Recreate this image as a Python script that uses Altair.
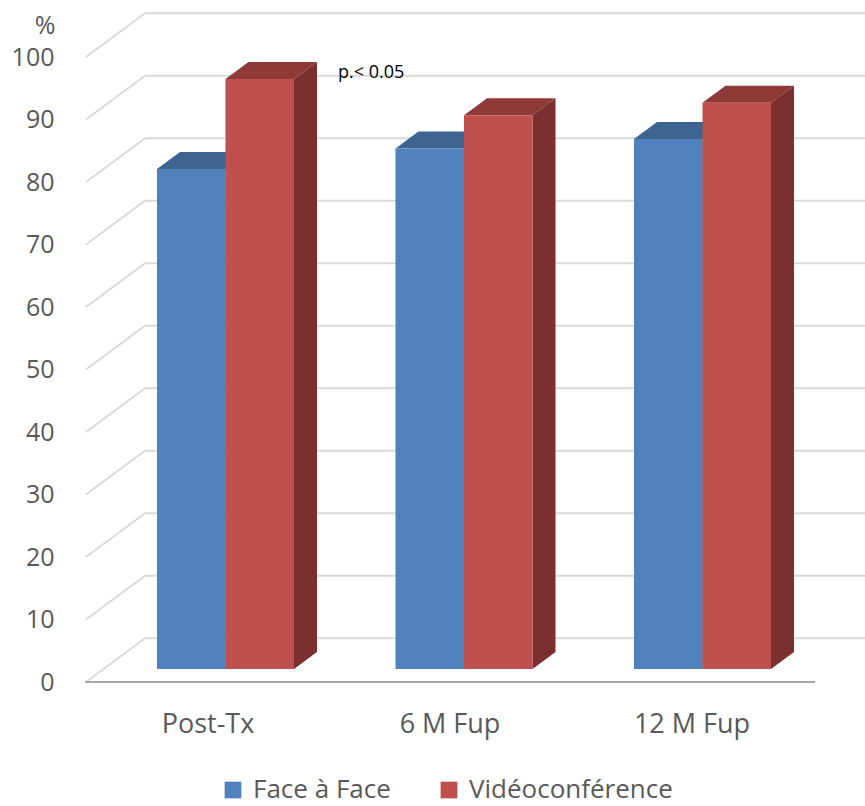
import altair as alt
import pandas as pd

# ---- data -------------------------------------------------------------
categories = ["Post-Tx", "6 M Fup", "12 M Fup"]
series = ["Face à Face", "Vidéoconférence"]
face_a_face = [80.0, 83.3, 84.8]
videoconference = [94.4, 88.6, 90.6]
y_ticks = [0, 10, 20, 30, 40, 50, 60, 70, 80, 90, 100]
annotation = "p.< 0.05"

# ---- colours ----------------------------------------------------------
front_colors = ["#4F81BD", "#C0504D"]
top_colors = ["#3D6391", "#8F3A38"]
side_colors = ["#304F74", "#7B302F"]
grid_color = "#D9D9D9"
floor_color = "#A6A6A6"
text_color = "#595959"
FONT = "Open Sans"

# ---- layout (x in canvas pixels, y in percent units) --------------------
CANVAS_W, CANVAS_H = 865, 806
PLOT_LEFT = 86
PX_PER_UNIT = 6.25
ZERO_PX = 682
Y_MIN = -(CANVAS_H - ZERO_PX) / PX_PER_UNIT
Y_MAX = ZERO_PX / PX_PER_UNIT

WALL_FRONT_X, WALL_BACK_X = 86, 145   # left wall: front and back edges
WALL_RIGHT = 865
WALL_DY = 7.0                          # vertical shift of the back wall
FLOOR_LEFT, FLOOR_RIGHT = 85, 815

GROUP_X0 = 157
GROUP_STEP = 238.5
BAR_W = 68.5
BAR_BASE = 2.08        # bars stand part-way into the floor
BAR_DX = 23            # bar depth, horizontal
BAR_DY = 2.72          # bar depth, vertical
LABEL_X0 = 208
LABEL_STEP = 242
LABEL_Y = -8.16
ANNOT_X, ANNOT_Y = 338, 96.6

xscale = alt.Scale(domain=[PLOT_LEFT, CANVAS_W], nice=False, zero=False)
yscale = alt.Scale(domain=[Y_MIN, Y_MAX], nice=False, zero=False)
yaxis = alt.Axis(
    values=y_ticks, title="%", titleAngle=0, titleAlign="right",
    titleBaseline="alphabetic", titleX=-31, titleY=33, titleFontSize=25,
    titleFont=FONT, titleFontWeight="normal", titleColor=text_color,
    labelFontSize=25, labelFont=FONT, labelColor=text_color,
    labelPadding=32, tickSize=0, domain=False, grid=False,
)


def X(field):
    return alt.X(field, type="quantitative", scale=xscale, axis=None)


def Y(field):
    return alt.Y(field, type="quantitative", scale=yscale, axis=yaxis)


# ---- tables built from the arrays --------------------------------------
values = [face_a_face, videoconference]

front_rows, top_rows, side_rows = [], [], []
for i, cat in enumerate(categories):
    for s, name in enumerate(series):
        v = values[s][i]
        xl = GROUP_X0 + GROUP_STEP * i + BAR_W * s
        xr = xl + BAR_W
        bid = f"{cat}|{name}"
        front_rows.append(dict(category=cat, series=name, value=v,
                               x=xl, x2=xr, y=BAR_BASE, y2=BAR_BASE + v))
        top = BAR_BASE + v
        top_rows += [
            dict(bar=bid, fill=top_colors[s], y=top, x=xl, x2=xr),
            dict(bar=bid, fill=top_colors[s], y=top + BAR_DY,
                 x=xl + BAR_DX, x2=xr + BAR_DX),
        ]
        side_rows += [
            dict(bar=bid, fill=side_colors[s], x=xr, y=BAR_BASE, y2=top),
            dict(bar=bid, fill=side_colors[s], x=xr + BAR_DX,
                 y=BAR_BASE + BAR_DY, y2=top + BAR_DY),
        ]

fronts = pd.DataFrame(front_rows)
tops = pd.DataFrame(top_rows)
sides = pd.DataFrame(side_rows)

back_grid = pd.DataFrame({"x": WALL_BACK_X, "x2": WALL_RIGHT,
                          "y": [t + WALL_DY for t in y_ticks]})
side_grid = pd.DataFrame({"x": WALL_FRONT_X, "x2": WALL_BACK_X,
                          "y": y_ticks, "y2": [t + WALL_DY for t in y_ticks]})
floor = pd.DataFrame({"x": [FLOOR_LEFT], "x2": [FLOOR_RIGHT], "y": [0]})
labels = pd.DataFrame({"label": categories,
                       "x": [LABEL_X0 + LABEL_STEP * i for i in range(len(categories))],
                       "y": LABEL_Y})
note = pd.DataFrame({"label": [annotation], "x": [ANNOT_X], "y": [ANNOT_Y]})

# ---- layers --------------------------------------------------------------
back_lines = alt.Chart(back_grid).mark_rule(color=grid_color, strokeWidth=1.8).encode(
    x=X("x"), x2="x2", y=Y("y"))
side_lines = alt.Chart(side_grid).mark_rule(color=grid_color, strokeWidth=1.8).encode(
    x=X("x"), x2="x2", y=Y("y"), y2="y2")
floor_line = alt.Chart(floor).mark_rule(color=floor_color, strokeWidth=2).encode(
    x=X("x"), x2="x2", y=Y("y"))

top_faces = alt.Chart(tops).mark_area(orient="horizontal").encode(
    y=Y("y"), x=X("x"), x2="x2", detail="bar:N",
    fill=alt.Fill("fill:N", scale=None))
side_faces = alt.Chart(sides).mark_area(orient="vertical").encode(
    x=X("x"), y=Y("y"), y2="y2", detail="bar:N",
    fill=alt.Fill("fill:N", scale=None))
front_faces = alt.Chart(fronts).mark_rect().encode(
    x=X("x"), x2="x2", y=Y("y"), y2="y2",
    color=alt.Color(
        "series:N",
        scale=alt.Scale(domain=series, range=front_colors),
        legend=alt.Legend(
            orient="none", legendX=134, legendY=777, direction="horizontal",
            title=None, symbolType="square", symbolSize=280,
            symbolStrokeWidth=0, labelFontSize=26, labelFont=FONT,
            labelColor=text_color, labelOffset=7, columnPadding=45,
            labelLimit=0, padding=0,
        ),
    ),
    tooltip=["category:N", "series:N", "value:Q"],
)

cat_text = alt.Chart(labels).mark_text(
    align="center", baseline="alphabetic", fontSize=27, font=FONT,
    color=text_color).encode(x=X("x"), y=Y("y"), text="label:N")
note_text = alt.Chart(note).mark_text(
    align="left", baseline="alphabetic", fontSize=18, font=FONT,
    color="#000000").encode(x=X("x"), y=Y("y"), text="label:N")

chart = alt.layer(
    back_lines, side_lines, floor_line, top_faces, side_faces,
    front_faces, cat_text, note_text,
).properties(
    width=CANVAS_W - PLOT_LEFT,
    height=CANVAS_H,
    padding={"left": PLOT_LEFT, "top": 0, "right": 0, "bottom": 0},
    autosize="none",
    background="white",
).configure_view(stroke=None)

chart.save("out.html", embed_options={"renderer": "svg", "actions": False})
